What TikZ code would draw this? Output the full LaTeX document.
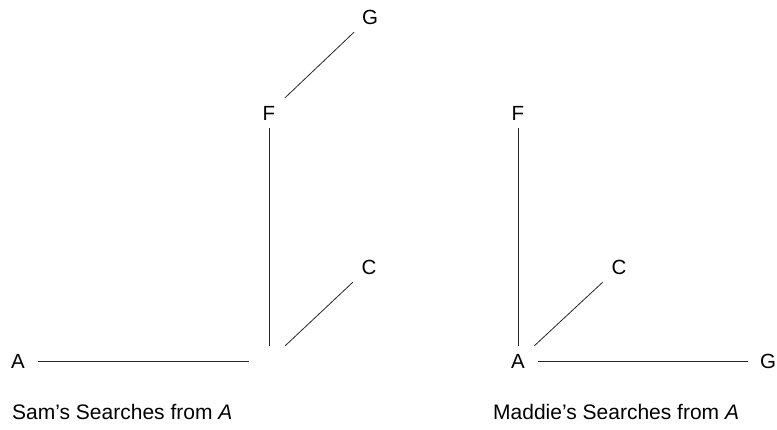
\documentclass[tikz,border=0pt]{standalone}
\usepackage{fontspec}
\setmainfont{Liberation Sans}

\tikzset{
  vertex/.style={minimum width=40pt, minimum height=30pt, inner sep=0pt, font=\fontsize{20.5}{22}\selectfont},
  branch/.style={line width=0.8pt, black!85},
  caption/.style={anchor=west, inner sep=0pt, font=\fontsize{21}{24}\selectfont}
}

\begin{document}
\begin{tikzpicture}[x=1pt, y=-1pt]

    % --- 1. bounding box ---
    \useasboundingbox (0, 0) rectangle (777, 429);

    % --- 2. Sam's tree ---
    \node[vertex] (samA) at (18, 361) {A};
    \node[vertex] (samX) at (269, 361) {};
    \node[vertex] (samF) at (269, 113) {F};
    \node[vertex] (samG) at (370, 17) {G};
    \node[vertex] (samC) at (369, 267) {C};

    \draw[branch] (samA) -- (samX);
    \draw[branch] (samX) -- (samF);
    \draw[branch] (samF) -- (samG);
    \draw[branch] (samX) -- (samC);

    % --- 3. Maddie's tree ---
    \node[vertex] (madA) at (518, 361) {A};
    \node[vertex] (madF) at (518, 113) {F};
    \node[vertex] (madC) at (619, 267) {C};
    \node[vertex] (madG) at (768, 361) {G};

    \draw[branch] (madA) -- (madF);
    \draw[branch] (madA) -- (madC);
    \draw[branch] (madA) -- (madG);

    % --- 4. captions ---
    \node[caption] (samCap) at (12, 412) {Sam’s Searches from \textit{A}};
    \node[caption] (madCap) at (493, 412) {Maddie’s Searches from \textit{A}};

\end{tikzpicture}
\end{document}
